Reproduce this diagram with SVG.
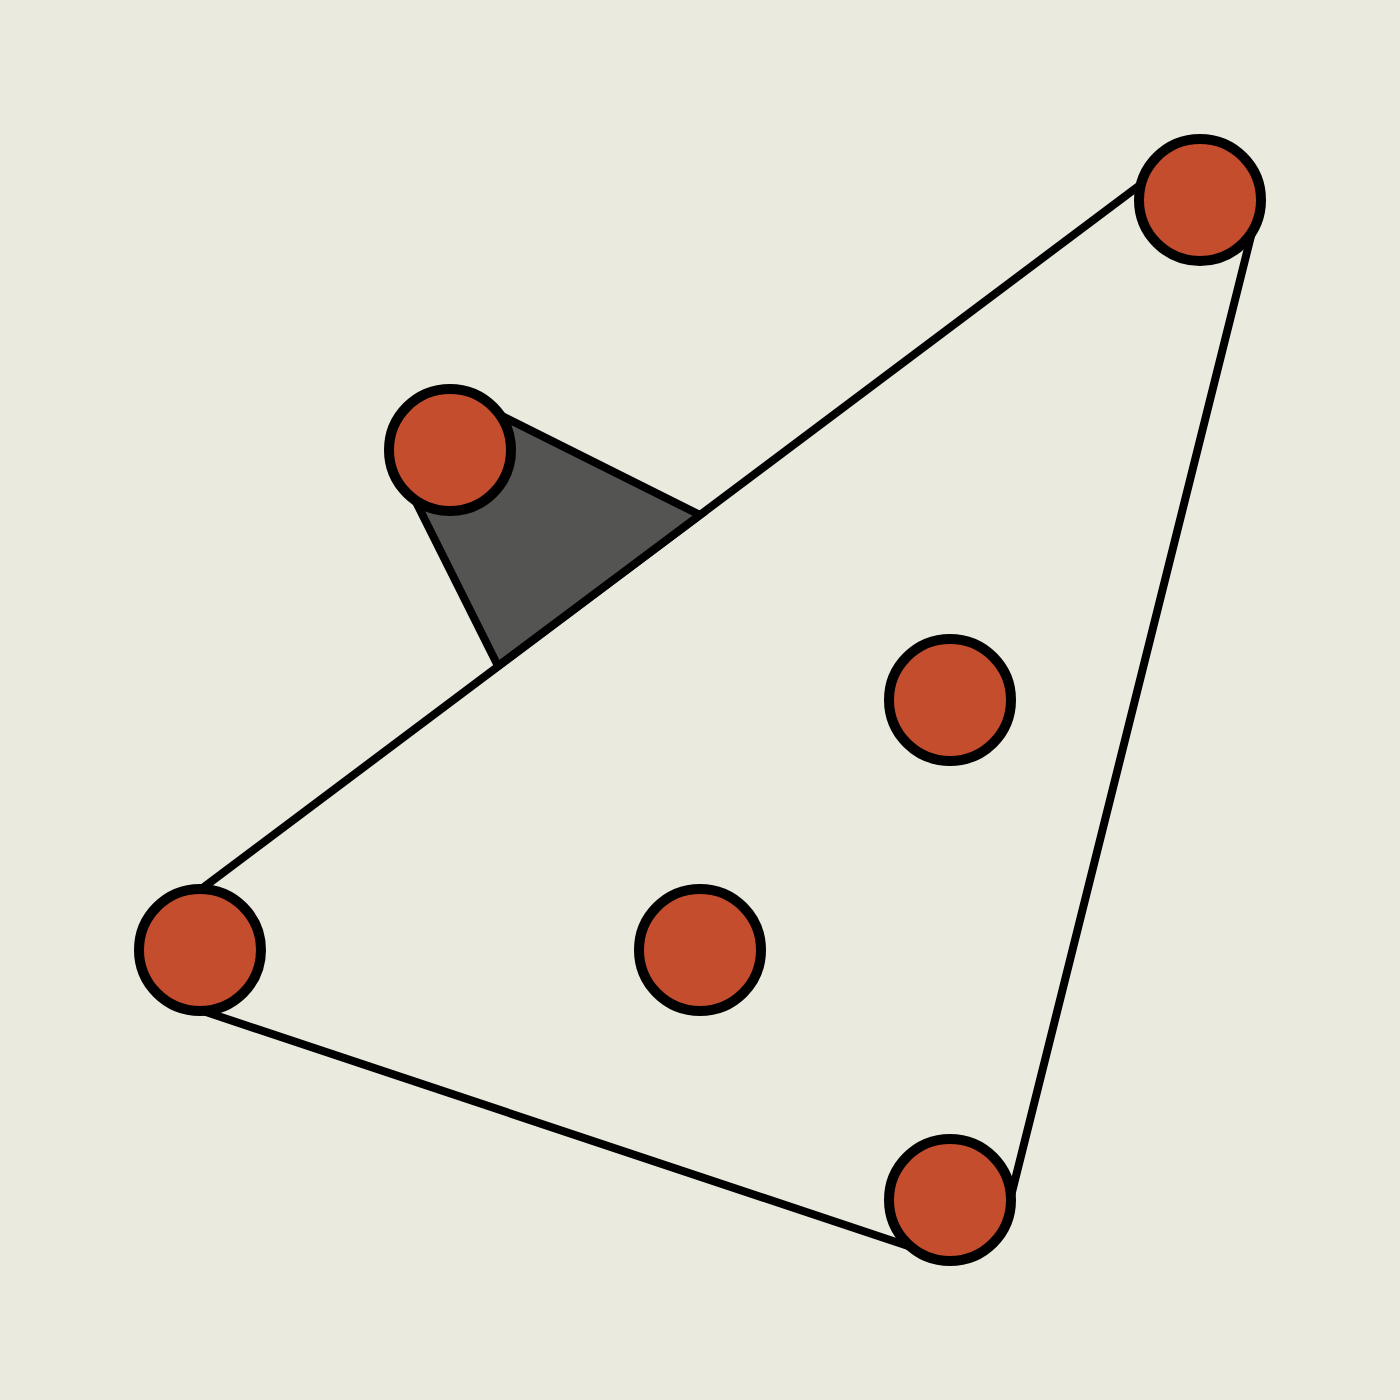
<svg xmlns="http://www.w3.org/2000/svg" width="1400" height="1400" viewBox="0 0 1400 1400">
<style>
.edge{fill:none;stroke:#000;stroke-width:8;stroke-linejoin:miter}
.pocket{fill:#545452;stroke:#000;stroke-width:8;stroke-linejoin:miter}
.pt{fill:#C44D2E;stroke:#000;stroke-width:10}
</style>
<rect x="0" y="0" width="1400" height="1400" fill="#EAEADF"/>
<g id="connectors">
<polygon class="edge" points="200,890 1200,140 1260,200 1010,1200 950,1260 200,1010 140,950"/>
<polygon class="pocket" points="450,390 700,515 498,666 390,450"/>
</g>
<g id="n1"><circle class="pt" cx="1200" cy="200" r="61"/></g>
<g id="n2"><circle class="pt" cx="450" cy="450" r="61"/></g>
<g id="n3"><circle class="pt" cx="950" cy="700" r="61"/></g>
<g id="n4"><circle class="pt" cx="200" cy="950" r="61"/></g>
<g id="n5"><circle class="pt" cx="700" cy="950" r="61"/></g>
<g id="n6"><circle class="pt" cx="950" cy="1200" r="61"/></g>
</svg>
